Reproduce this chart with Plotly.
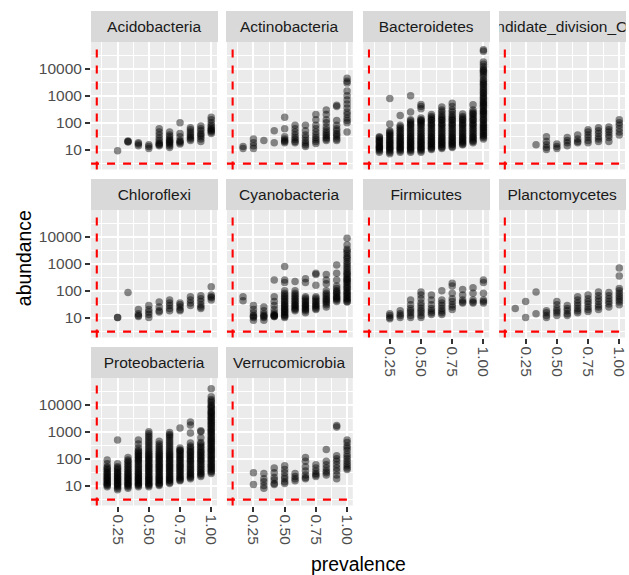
import plotly.graph_objects as go

W, H = 629, 575
N_SAMPLES = 12  # prevalence = k / 12

phyla = ["Acidobacteria", "Actinobacteria", "Bacteroidetes", "Candidate_division_OD1",
         "Chloroflexi", "Cyanobacteria", "Firmicutes", "Planctomycetes",
         "Proteobacteria", "Verrucomicrobia"]

# abundance values per prevalence level k (prevalence = k/12)
acidobacteria = {3: [9], 4: [19, 20, 21], 5: [14, 16, 18], 6: [11, 13, 15],
                 7: [14, 15, 16, 18, 22, 27, 35, 45, 60],
                 8: [12, 14, 16, 18, 20, 22, 25, 30, 35, 45],
                 9: [100, 40, 30, 22, 20, 18, 16],
                 10: [65, 55, 45, 38, 32, 28, 25, 22],
                 11: [75, 60, 50, 40, 35, 30, 25, 20],
                 12: [160, 130, 100, 80, 70, 60, 55, 50, 45, 40]}
actinobacteria = {2: [11, 13], 3: [11, 14, 18, 25], 4: [22], 5: [18, 50],
                  6: [160, 60, 30, 25, 22, 20, 18],
                  7: [80, 60, 45, 35, 28, 24, 20, 18],
                  8: [80, 50, 35, 28, 22, 18, 15, 13],
                  9: [200, 130, 80, 60, 45, 35, 28, 24, 20, 17],
                  10: [300, 200, 130, 100, 70, 55, 45, 38, 33, 28, 25, 22],
                  11: [450, 400, 120, 80, 60, 50, 40, 35, 30, 25, 22],
                  12: [4500, 3500, 3000, 1500, 1000, 700, 500, 350, 250, 200, 150, 120, 100, 45]}
bacteroidetes = {2: [8, 9, 10, 11, 12, 13, 14, 16, 18, 20, 22, 25, 28, 30],
                 3: [800, 90, 50, 45, 40, 35, 32, 28, 25, 22, 20, 18, 16, 15, 13, 12, 11,
                     10, 9, 8, 7],
                 4: [185, 80, 70, 60, 52, 45, 40, 35, 30, 28, 25, 22, 20, 18, 16, 15, 13,
                     12, 11, 10, 9, 8],
                 5: [1000, 250, 130, 115, 100, 90, 80, 70, 60, 52, 45, 40, 35, 30, 28, 25,
                     22, 20, 18, 16, 15, 13, 12, 11, 10, 9, 8],
                 6: [480, 400, 330, 150, 130, 120, 110, 100, 90, 80, 70, 60, 52, 45, 40,
                     35, 30, 28, 25, 22, 20, 18, 16, 15, 13, 12, 11, 10, 9, 8],
                 7: [200, 170, 150, 130, 120, 100, 90, 80, 70, 60, 52, 45, 40, 35, 30, 28,
                     25, 22, 20, 18, 16, 15, 13, 12, 11, 10],
                 8: [380, 300, 250, 200, 170, 150, 130, 120, 100, 90, 80, 70, 60, 52, 45,
                     40, 35, 30, 28, 25, 22, 20, 18, 16, 15, 13, 12, 11],
                 9: [530, 400, 300, 250, 200, 170, 150, 130, 120, 100, 90, 80, 70, 60, 52,
                     45, 40, 35, 30, 28, 25, 22, 20, 18, 16, 15, 13, 12],
                 10: [210, 170, 150, 130, 120, 100, 90, 80, 70, 60, 52, 45, 40, 35, 30, 28,
                      25, 22, 20, 18, 16, 15],
                 11: [470, 300, 250, 220, 200, 170, 150, 130, 120, 100, 90, 80, 70, 60, 52,
                      45, 40, 35, 30, 28, 25, 22, 20, 18],
                 12: [52000, 45000, 18000, 15000, 12000, 10000, 9000, 8000, 7000, 6000,
                      5000, 4000, 3500, 3000, 2700, 2300, 2000, 1700, 1500, 1300, 1200,
                      1000, 900, 800, 700, 600, 550, 500, 450, 400, 350, 300, 270, 250,
                      220, 200, 170, 150, 130, 120, 100, 90, 80, 70, 65, 57, 50, 45, 40,
                      35, 32, 28, 25]}
candidate_od1 = {4: [15], 5: [30, 20, 15, 12, 10], 6: [16, 13, 11], 7: [28, 22, 18, 14],
                 8: [35, 25, 20, 18], 9: [55, 45, 35, 28, 22, 18],
                 10: [65, 50, 40, 30, 25, 20], 11: [70, 55, 45, 35, 28, 20],
                 12: [130, 100, 80, 60, 45, 35]}
chloroflexi = {3: [10, 10], 4: [85], 5: [20, 14, 12, 11], 6: [28, 20, 16, 13, 10],
               7: [38, 25, 18, 16], 8: [45, 35, 28, 22, 18], 9: [35, 30, 25, 20, 18],
               10: [60, 45, 35, 28], 11: [65, 50, 40, 30, 25, 22], 12: [140, 70, 60, 55, 45]}
cyanobacteria = {2: [60, 42], 3: [28, 20, 15, 12, 11, 10, 8], 4: [25, 18, 14, 12, 11, 10, 8],
                 5: [250, 60, 40, 28, 20, 15, 13, 12, 12, 11, 11],
                 6: [800, 250, 200, 100, 80, 70, 60, 52, 45, 40, 35, 30, 28, 25, 22, 20,
                     18, 16, 15, 13, 12, 11, 10],
                 7: [220, 100, 80, 70, 60, 52, 45, 40, 35, 30, 28, 25, 22, 20, 18],
                 8: [280, 200, 60, 52, 45, 40, 35, 30, 28, 25, 22, 20, 18, 15],
                 9: [450, 400, 160, 60, 52, 45, 40, 35, 30, 28, 25, 22, 20],
                 10: [400, 250, 180, 100, 80, 70, 60, 50, 45, 40, 35, 30, 25],
                 11: [900, 450, 250, 150, 120, 100, 90, 80, 70, 60, 55, 50, 45, 40],
                 12: [9000, 5000, 3500, 3000, 2500, 2000, 1700, 1500, 1200, 1000, 850, 700,
                      600, 500, 450, 400, 350, 300, 270, 250, 220, 200, 170, 150, 130, 120,
                      100, 90, 80, 70, 65, 55, 50, 45, 40, 38]}
firmicutes = {3: [14, 12, 10, 9], 4: [18, 14, 12, 10], 5: [45, 30, 22, 18, 15, 12, 10],
              6: [90, 70, 50, 35, 28, 22, 18, 15, 12, 10], 7: [70, 45, 30, 22, 18, 15, 13],
              8: [100, 45, 35, 28, 22, 18, 15, 13], 9: [190, 150, 80, 50, 40, 30, 25, 20],
              10: [110, 70, 45, 38, 35], 11: [130, 80, 45, 38, 35],
              12: [250, 200, 80, 45, 40, 35]}
planctomycetes = {2: [22], 3: [40, 10], 4: [90, 14], 5: [18, 15, 12, 10],
                  6: [40, 30, 22, 18, 15, 12], 7: [28, 22, 18, 14, 12],
                  8: [60, 45, 35, 28, 22, 18, 15], 9: [70, 50, 40, 32, 25, 20, 17],
                  10: [90, 65, 50, 40, 30, 25, 20], 11: [85, 65, 50, 40, 32, 25],
                  12: [700, 350, 120, 100, 80, 65, 55, 45, 38, 30]}
proteobacteria = {2: [90, 65, 50, 45, 40, 35, 30, 28, 25, 22, 20, 18, 16, 15, 13, 12, 11,
                      10, 9],
                  3: [500, 65, 50, 45, 40, 35, 30, 28, 25, 22, 20, 18, 16, 15, 13, 12, 11,
                      10, 9, 8, 7],
                  4: [110, 90, 80, 70, 60, 52, 45, 40, 35, 30, 28, 25, 22, 20, 18, 16, 15,
                      13, 12, 11, 10, 9, 8],
                  5: [500, 350, 250, 200, 180, 160, 140, 125, 110, 100, 90, 80, 70, 60, 52,
                      45, 40, 35, 30, 28, 25, 22, 20, 18, 16, 15, 13, 12, 11, 10, 9],
                  6: [1000, 850, 700, 600, 500, 420, 350, 300, 250, 210, 180, 160, 140, 125,
                      110, 100, 90, 80, 70, 62, 55, 50, 45, 40, 35, 32, 28, 25, 22, 20, 18,
                      16, 15, 13, 12, 11, 10, 9],
                  7: [450, 350, 300, 250, 210, 180, 160, 140, 125, 110, 100, 90, 80, 70, 62,
                      55, 50, 45, 40, 35, 32, 28, 25, 22, 20, 18, 16, 15, 13, 12, 11, 10],
                  8: [950, 800, 700, 600, 500, 420, 350, 300, 250, 210, 180, 160, 140, 125,
                      110, 100, 90, 80, 70, 62, 55, 50, 45, 40, 35, 32, 28, 25, 22, 20, 18,
                      16, 15, 13, 12],
                  9: [1400, 250, 210, 200, 180, 160, 140, 125, 110, 100, 90, 80, 70, 62,
                      55, 50, 45, 40, 35, 32, 28, 25, 22, 20, 18, 16, 15],
                  10: [2300, 1800, 900, 380, 300, 260, 220, 190, 170, 150, 130, 115, 100,
                       90, 80, 70, 60, 52, 45, 40, 35, 30, 28, 25, 22, 20, 18],
                  11: [1100, 1000, 600, 400, 350, 300, 260, 220, 190, 170, 150, 130, 115,
                       100, 90, 80, 70, 60, 52, 45, 40, 35, 30, 28, 25, 22],
                  12: [40000, 20000, 16000, 14000, 12000, 10000, 9000, 8000, 7000, 6000,
                       5500, 5000, 4500, 4000, 3500, 3200, 2800, 2500, 2200, 2000, 1800,
                       1600, 1400, 1250, 1100, 1000, 900, 800, 700, 620, 550, 500, 450, 400,
                       350, 320, 280, 250, 220, 200, 180, 160, 140, 125, 110, 100, 90, 80,
                       70, 62, 55, 50, 45, 40, 35, 32, 28]}
verrucomicrobia = {3: [30, 11], 4: [28, 18, 14, 10, 8], 5: [45, 30, 20, 16, 12, 11],
                   6: [55, 40, 30, 22, 18, 14, 12], 7: [28, 22, 18, 15],
                   8: [110, 80, 50, 35, 25, 20, 18], 9: [60, 45, 35, 28, 25, 22],
                   10: [220, 80, 60, 45, 35, 30, 25],
                   11: [1700, 1500, 130, 100, 80, 60, 45, 35, 25, 18],
                   12: [500, 400, 300, 250, 200, 150, 120, 100, 80, 65, 55, 45, 40]}

panel_data = [acidobacteria, actinobacteria, bacteroidetes, candidate_od1, chloroflexi,
              cyanobacteria, firmicutes, planctomycetes, proteobacteria, verrucomicrobia]

prevalence_threshold = 1 / 12
abundance_threshold = 3

x_ticks = [0.25, 0.5, 0.75, 1.0]
x_ticklabels = ["0.25", "0.50", "0.75", "1.00"]
x_minor = [0.125, 0.375, 0.625, 0.875]
y_ticks = [10, 100, 1000, 10000]
y_ticklabels = ["10", "100", "1000", "10000"]
y_minor = [10 ** 0.5, 10 ** 1.5, 10 ** 2.5, 10 ** 3.5, 10 ** 4.5, 10 ** 5]

# ---- layout geometry (pixels) ----
col_px = [(91.5, 218), (228, 354.5), (365, 491.5), (501.5, 628)]
strip_top = [11, 179, 347]
strip_h = 30.5
panel_h = 128
x_range = [0.0375, 1.0458]
y_range = [0.26, 5.02]

FONT = "Liberation Sans, Arial, Helvetica, sans-serif"
px = lambda v: v / W
py = lambda v: 1 - v / H

fig = go.Figure()
annotations = []
shapes = []
layout = {}

for i, (name, data) in enumerate(zip(phyla, panel_data)):
    r, c = divmod(i, 4)
    n = i + 1
    xs, ys = [], []
    for k, vals in data.items():
        for v in vals:
            xs.append(k / N_SAMPLES)
            ys.append(v)
    xa = "x" if n == 1 else f"x{n}"
    ya = "y" if n == 1 else f"y{n}"
    fig.add_trace(go.Scatter(x=xs, y=ys, mode="markers", xaxis=xa, yaxis=ya,
                             marker=dict(color="black", size=7.5, opacity=0.45,
                                         line=dict(width=0)),
                             showlegend=False, hoverinfo="skip"))
    x0, x1 = col_px[c]
    ptop = strip_top[r] + strip_h
    pbot = ptop + panel_h
    bottom_of_col = (i + 4 >= len(phyla))
    left_col = (c == 0)
    layout[f"xaxis{n if n > 1 else ''}"] = dict(
        domain=[px(x0), px(x1)], anchor=ya, range=x_range, showline=False,
        zeroline=False, showgrid=True, gridcolor="white", gridwidth=2.1,
        tickvals=x_ticks, ticktext=x_ticklabels,
        showticklabels=bottom_of_col, ticks="outside" if bottom_of_col else "",
        ticklen=5, tickwidth=2, tickcolor="#333333", tickangle=90,
        tickfont=dict(family=FONT, size=15.5, color="#4D4D4D"),
        minor=dict(tickvals=x_minor, showgrid=True, gridcolor="white", gridwidth=1.05, ticks=""),
        fixedrange=True)
    layout[f"yaxis{n if n > 1 else ''}"] = dict(
        domain=[py(pbot), py(ptop)], anchor=xa, type="log", range=y_range,
        showline=False, zeroline=False, showgrid=True, gridcolor="white", gridwidth=2.1,
        tickvals=y_ticks, ticktext=y_ticklabels,
        showticklabels=left_col, ticks="outside" if left_col else "",
        ticklen=5, tickwidth=2, tickcolor="#333333",
        tickfont=dict(family=FONT, size=15.5, color="#4D4D4D"),
        minor=dict(tickvals=y_minor, showgrid=True, gridcolor="white", gridwidth=1.05, ticks=""),
        fixedrange=True)
    # panel background
    shapes.append(dict(type="rect", xref="paper", yref="paper", x0=px(x0), x1=px(x1),
                       y0=py(pbot), y1=py(ptop), fillcolor="#EBEBEB", line=dict(width=0),
                       layer="below"))
    # threshold lines
    shapes.append(dict(type="line", xref=f"{xa} domain", yref=ya, x0=0, x1=1,
                       y0=abundance_threshold, y1=abundance_threshold,
                       line=dict(color="red", width=2.1, dash="8px,8px")))
    shapes.append(dict(type="line", xref=xa, yref=f"{ya} domain",
                       x0=prevalence_threshold, x1=prevalence_threshold, y0=0, y1=1,
                       line=dict(color="red", width=2.1, dash="8px,8px")))
    # strip (text clipped to the strip box, as in the original)
    annotations.append(dict(text=name, xref="paper", yref="paper",
                            x=px((x0 + x1) / 2), y=py(strip_top[r] + strip_h / 2),
                            xanchor="center", yanchor="middle", showarrow=False,
                            width=x1 - x0, height=strip_h, bgcolor="#D9D9D9",
                            borderpad=0, borderwidth=0, align="center", valign="middle",
                            font=dict(family=FONT, size=15.5, color="#1A1A1A")))

annotations.append(dict(text="prevalence", xref="paper", yref="paper",
                        x=px((col_px[0][0] + col_px[3][1]) / 2), y=py(564),
                        xanchor="center", yanchor="middle", showarrow=False,
                        font=dict(family=FONT, size=19.4, color="black")))
annotations.append(dict(text="abundance", xref="paper", yref="paper",
                        x=px(24), y=py((strip_top[0] + strip_top[2] + strip_h + panel_h) / 2),
                        xanchor="center", yanchor="middle", showarrow=False, textangle=-90,
                        font=dict(family=FONT, size=19.4, color="black")))

fig.update_layout(width=W, height=H, margin=dict(l=0, r=0, t=0, b=0),
                  paper_bgcolor="white", plot_bgcolor="rgba(0,0,0,0)",
                  annotations=annotations, shapes=shapes, **layout)

fig.write_html("out.html")
